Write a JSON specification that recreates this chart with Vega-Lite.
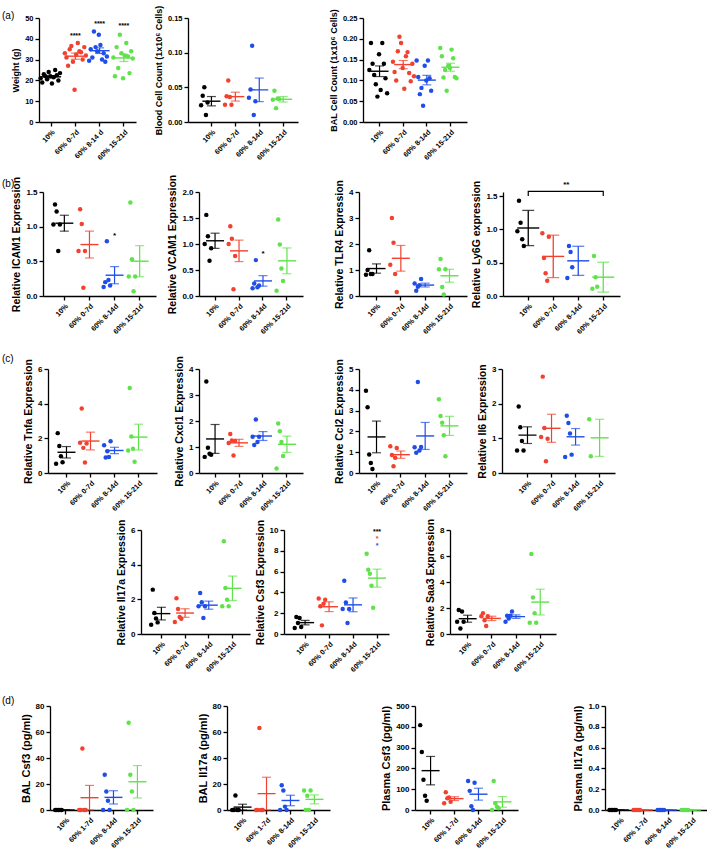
{
"$schema": "https://vega.github.io/schema/vega-lite/v6.json",
"padding": {"left": 2, "top": 5, "right": 0, "bottom": 0},
"background": "white",
"datasets": {
"pts": [
{"p":"a1","x":"10%","v":21},{"p":"a1","x":"10%","v":19},{"p":"a1","x":"10%","v":23},{"p":"a1","x":"10%","v":22},{"p":"a1","x":"10%","v":20.5},{"p":"a1","x":"10%","v":24},{"p":"a1","x":"10%","v":22},{"p":"a1","x":"10%","v":18.5},{"p":"a1","x":"10%","v":21.5},{"p":"a1","x":"10%","v":25},{"p":"a1","x":"10%","v":22.5},{"p":"a1","x":"10%","v":20},{"p":"a1","x":"10%","v":23.5},
{"p":"a1","x":"60% 0-7d","v":33},{"p":"a1","x":"60% 0-7d","v":31},{"p":"a1","x":"60% 0-7d","v":27},{"p":"a1","x":"60% 0-7d","v":35},{"p":"a1","x":"60% 0-7d","v":36.5},{"p":"a1","x":"60% 0-7d","v":29},{"p":"a1","x":"60% 0-7d","v":15.5},{"p":"a1","x":"60% 0-7d","v":32.5},{"p":"a1","x":"60% 0-7d","v":38},{"p":"a1","x":"60% 0-7d","v":34},{"p":"a1","x":"60% 0-7d","v":33.5},{"p":"a1","x":"60% 0-7d","v":30},{"p":"a1","x":"60% 0-7d","v":36},{"p":"a1","x":"60% 0-7d","v":32},
{"p":"a1","x":"60% 8-14 d","v":29.5},{"p":"a1","x":"60% 8-14 d","v":35},{"p":"a1","x":"60% 8-14 d","v":31},{"p":"a1","x":"60% 8-14 d","v":43.5},{"p":"a1","x":"60% 8-14 d","v":36},{"p":"a1","x":"60% 8-14 d","v":34},{"p":"a1","x":"60% 8-14 d","v":42},{"p":"a1","x":"60% 8-14 d","v":37},{"p":"a1","x":"60% 8-14 d","v":30},{"p":"a1","x":"60% 8-14 d","v":33},{"p":"a1","x":"60% 8-14 d","v":29},{"p":"a1","x":"60% 8-14 d","v":31.5},
{"p":"a1","x":"60% 15-21d","v":31},{"p":"a1","x":"60% 15-21d","v":22},{"p":"a1","x":"60% 15-21d","v":36},{"p":"a1","x":"60% 15-21d","v":26},{"p":"a1","x":"60% 15-21d","v":42},{"p":"a1","x":"60% 15-21d","v":33},{"p":"a1","x":"60% 15-21d","v":21},{"p":"a1","x":"60% 15-21d","v":32},{"p":"a1","x":"60% 15-21d","v":38},{"p":"a1","x":"60% 15-21d","v":31.5},{"p":"a1","x":"60% 15-21d","v":23.5},{"p":"a1","x":"60% 15-21d","v":34},{"p":"a1","x":"60% 15-21d","v":30.5},
{"p":"a2","x":"10%","v":0.024},{"p":"a2","x":"10%","v":0.038},{"p":"a2","x":"10%","v":0.05},{"p":"a2","x":"10%","v":0.01},{"p":"a2","x":"10%","v":0.028},
{"p":"a2","x":"60% 0-7d","v":0.025},{"p":"a2","x":"60% 0-7d","v":0.037},{"p":"a2","x":"60% 0-7d","v":0.06},{"p":"a2","x":"60% 0-7d","v":0.036},{"p":"a2","x":"60% 0-7d","v":0.025},
{"p":"a2","x":"60% 8-14d","v":0.035},{"p":"a2","x":"60% 8-14d","v":0.047},{"p":"a2","x":"60% 8-14d","v":0.11},{"p":"a2","x":"60% 8-14d","v":0.01},{"p":"a2","x":"60% 8-14d","v":0.03},
{"p":"a2","x":"60% 15-21d","v":0.032},{"p":"a2","x":"60% 15-21d","v":0.045},{"p":"a2","x":"60% 15-21d","v":0.02},{"p":"a2","x":"60% 15-21d","v":0.034},{"p":"a2","x":"60% 15-21d","v":0.033},
{"p":"a3","x":"10%","v":0.125},{"p":"a3","x":"10%","v":0.19},{"p":"a3","x":"10%","v":0.14},{"p":"a3","x":"10%","v":0.113},{"p":"a3","x":"10%","v":0.091},{"p":"a3","x":"10%","v":0.061},{"p":"a3","x":"10%","v":0.163},{"p":"a3","x":"10%","v":0.077},{"p":"a3","x":"10%","v":0.19},{"p":"a3","x":"10%","v":0.14},{"p":"a3","x":"10%","v":0.105},{"p":"a3","x":"10%","v":0.069},
{"p":"a3","x":"60% 0-7d","v":0.145},{"p":"a3","x":"60% 0-7d","v":0.12},{"p":"a3","x":"60% 0-7d","v":0.1},{"p":"a3","x":"60% 0-7d","v":0.17},{"p":"a3","x":"60% 0-7d","v":0.205},{"p":"a3","x":"60% 0-7d","v":0.19},{"p":"a3","x":"60% 0-7d","v":0.13},{"p":"a3","x":"60% 0-7d","v":0.08},{"p":"a3","x":"60% 0-7d","v":0.158},{"p":"a3","x":"60% 0-7d","v":0.168},{"p":"a3","x":"60% 0-7d","v":0.118},{"p":"a3","x":"60% 0-7d","v":0.098},{"p":"a3","x":"60% 0-7d","v":0.14},{"p":"a3","x":"60% 0-7d","v":0.11},
{"p":"a3","x":"60% 8-14d","v":0.148},{"p":"a3","x":"60% 8-14d","v":0.108},{"p":"a3","x":"60% 8-14d","v":0.067},{"p":"a3","x":"60% 8-14d","v":0.082},{"p":"a3","x":"60% 8-14d","v":0.039},{"p":"a3","x":"60% 8-14d","v":0.135},{"p":"a3","x":"60% 8-14d","v":0.1},{"p":"a3","x":"60% 8-14d","v":0.148},{"p":"a3","x":"60% 8-14d","v":0.105},{"p":"a3","x":"60% 8-14d","v":0.075},
{"p":"a3","x":"60% 15-21d","v":0.178},{"p":"a3","x":"60% 15-21d","v":0.158},{"p":"a3","x":"60% 15-21d","v":0.107},{"p":"a3","x":"60% 15-21d","v":0.125},{"p":"a3","x":"60% 15-21d","v":0.075},{"p":"a3","x":"60% 15-21d","v":0.135},{"p":"a3","x":"60% 15-21d","v":0.13},{"p":"a3","x":"60% 15-21d","v":0.174},{"p":"a3","x":"60% 15-21d","v":0.153},{"p":"a3","x":"60% 15-21d","v":0.108},{"p":"a3","x":"60% 15-21d","v":0.105},
{"p":"b1","x":"10%","v":1.03},{"p":"b1","x":"10%","v":1.32},{"p":"b1","x":"10%","v":1.22},{"p":"b1","x":"10%","v":0.65},{"p":"b1","x":"10%","v":1.03},
{"p":"b1","x":"60% 0-7d","v":0.65},{"p":"b1","x":"60% 0-7d","v":1.25},{"p":"b1","x":"60% 0-7d","v":1.04},{"p":"b1","x":"60% 0-7d","v":0.12},{"p":"b1","x":"60% 0-7d","v":0.65},
{"p":"b1","x":"60% 8-14d","v":0.13},{"p":"b1","x":"60% 8-14d","v":0.2},{"p":"b1","x":"60% 8-14d","v":0.79},{"p":"b1","x":"60% 8-14d","v":0.23},{"p":"b1","x":"60% 8-14d","v":0.15},
{"p":"b1","x":"60% 15-21d","v":0.28},{"p":"b1","x":"60% 15-21d","v":1.35},{"p":"b1","x":"60% 15-21d","v":0.53},{"p":"b1","x":"60% 15-21d","v":0.07},{"p":"b1","x":"60% 15-21d","v":0.28},
{"p":"b2","x":"10%","v":1.0},{"p":"b2","x":"10%","v":1.56},{"p":"b2","x":"10%","v":1.15},{"p":"b2","x":"10%","v":0.68},{"p":"b2","x":"10%","v":0.92},
{"p":"b2","x":"60% 0-7d","v":1.0},{"p":"b2","x":"60% 0-7d","v":1.34},{"p":"b2","x":"60% 0-7d","v":1.1},{"p":"b2","x":"60% 0-7d","v":0.13},{"p":"b2","x":"60% 0-7d","v":0.77},
{"p":"b2","x":"60% 8-14d","v":0.15},{"p":"b2","x":"60% 8-14d","v":0.24},{"p":"b2","x":"60% 8-14d","v":0.69},{"p":"b2","x":"60% 8-14d","v":0.17},{"p":"b2","x":"60% 8-14d","v":0.2},
{"p":"b2","x":"60% 15-21d","v":0.1},{"p":"b2","x":"60% 15-21d","v":1.47},{"p":"b2","x":"60% 15-21d","v":0.99},{"p":"b2","x":"60% 15-21d","v":0.53},{"p":"b2","x":"60% 15-21d","v":0.29},
{"p":"b3","x":"10%","v":0.82},{"p":"b3","x":"10%","v":1.0},{"p":"b3","x":"10%","v":1.76},{"p":"b3","x":"10%","v":0.85},{"p":"b3","x":"10%","v":0.85},
{"p":"b3","x":"60% 0-7d","v":1.2},{"p":"b3","x":"60% 0-7d","v":3.0},{"p":"b3","x":"60% 0-7d","v":2.05},{"p":"b3","x":"60% 0-7d","v":0.85},{"p":"b3","x":"60% 0-7d","v":0.15},
{"p":"b3","x":"60% 8-14d","v":0.48},{"p":"b3","x":"60% 8-14d","v":0.2},{"p":"b3","x":"60% 8-14d","v":0.36},{"p":"b3","x":"60% 8-14d","v":0.41},{"p":"b3","x":"60% 8-14d","v":0.65},
{"p":"b3","x":"60% 15-21d","v":1.03},{"p":"b3","x":"60% 15-21d","v":1.42},{"p":"b3","x":"60% 15-21d","v":0.35},{"p":"b3","x":"60% 15-21d","v":0.06},{"p":"b3","x":"60% 15-21d","v":1.03},
{"p":"b4","x":"10%","v":0.97},{"p":"b4","x":"10%","v":1.43},{"p":"b4","x":"10%","v":1.1},{"p":"b4","x":"10%","v":0.85},{"p":"b4","x":"10%","v":0.75},
{"p":"b4","x":"60% 0-7d","v":0.94},{"p":"b4","x":"60% 0-7d","v":0.57},{"p":"b4","x":"60% 0-7d","v":0.34},{"p":"b4","x":"60% 0-7d","v":0.23},{"p":"b4","x":"60% 0-7d","v":0.89},
{"p":"b4","x":"60% 8-14d","v":0.27},{"p":"b4","x":"60% 8-14d","v":0.75},{"p":"b4","x":"60% 8-14d","v":0.66},{"p":"b4","x":"60% 8-14d","v":0.43},
{"p":"b4","x":"60% 15-21d","v":0.11},{"p":"b4","x":"60% 15-21d","v":0.6},{"p":"b4","x":"60% 15-21d","v":0.28},{"p":"b4","x":"60% 15-21d","v":0.14},
{"p":"c1","x":"10%","v":0.53},{"p":"c1","x":"10%","v":2.3},{"p":"c1","x":"10%","v":1.56},{"p":"c1","x":"10%","v":0.97},{"p":"c1","x":"10%","v":0.62},
{"p":"c1","x":"60% 0-7d","v":1.75},{"p":"c1","x":"60% 0-7d","v":3.72},{"p":"c1","x":"60% 0-7d","v":1.45},{"p":"c1","x":"60% 0-7d","v":0.6},{"p":"c1","x":"60% 0-7d","v":1.7},
{"p":"c1","x":"60% 8-14d","v":1.6},{"p":"c1","x":"60% 8-14d","v":0.9},{"p":"c1","x":"60% 8-14d","v":1.25},{"p":"c1","x":"60% 8-14d","v":0.92},{"p":"c1","x":"60% 8-14d","v":1.83},
{"p":"c1","x":"60% 15-21d","v":1.3},{"p":"c1","x":"60% 15-21d","v":4.9},{"p":"c1","x":"60% 15-21d","v":2.1},{"p":"c1","x":"60% 15-21d","v":1.4},{"p":"c1","x":"60% 15-21d","v":0.65},
{"p":"c2","x":"10%","v":0.62},{"p":"c2","x":"10%","v":3.52},{"p":"c2","x":"10%","v":0.97},{"p":"c2","x":"10%","v":0.74},{"p":"c2","x":"10%","v":0.7},
{"p":"c2","x":"60% 0-7d","v":1.15},{"p":"c2","x":"60% 0-7d","v":1.5},{"p":"c2","x":"60% 0-7d","v":1.25},{"p":"c2","x":"60% 0-7d","v":0.67},{"p":"c2","x":"60% 0-7d","v":1.23},
{"p":"c2","x":"60% 8-14d","v":1.39},{"p":"c2","x":"60% 8-14d","v":1.08},{"p":"c2","x":"60% 8-14d","v":2.06},{"p":"c2","x":"60% 8-14d","v":1.19},{"p":"c2","x":"60% 8-14d","v":1.39},
{"p":"c2","x":"60% 15-21d","v":0.17},{"p":"c2","x":"60% 15-21d","v":1.9},{"p":"c2","x":"60% 15-21d","v":1.61},{"p":"c2","x":"60% 15-21d","v":1.19},{"p":"c2","x":"60% 15-21d","v":0.65},
{"p":"c3","x":"10%","v":3.95},{"p":"c3","x":"10%","v":3.16},{"p":"c3","x":"10%","v":0.89},{"p":"c3","x":"10%","v":0.48},{"p":"c3","x":"10%","v":0.19},
{"p":"c3","x":"60% 0-7d","v":1.29},{"p":"c3","x":"60% 0-7d","v":0.87},{"p":"c3","x":"60% 0-7d","v":0.32},{"p":"c3","x":"60% 0-7d","v":0.73},{"p":"c3","x":"60% 0-7d","v":1.2},
{"p":"c3","x":"60% 8-14d","v":1.24},{"p":"c3","x":"60% 8-14d","v":0.97},{"p":"c3","x":"60% 8-14d","v":4.37},{"p":"c3","x":"60% 8-14d","v":1.08},{"p":"c3","x":"60% 8-14d","v":1.25},
{"p":"c3","x":"60% 15-21d","v":3.55},{"p":"c3","x":"60% 15-21d","v":2.74},{"p":"c3","x":"60% 15-21d","v":2.42},{"p":"c3","x":"60% 15-21d","v":1.81},{"p":"c3","x":"60% 15-21d","v":0.81},
{"p":"c4","x":"10%","v":0.65},{"p":"c4","x":"10%","v":1.92},{"p":"c4","x":"10%","v":1.32},{"p":"c4","x":"10%","v":0.92},{"p":"c4","x":"10%","v":0.65},
{"p":"c4","x":"60% 0-7d","v":1.04},{"p":"c4","x":"60% 0-7d","v":2.78},{"p":"c4","x":"60% 0-7d","v":1.3},{"p":"c4","x":"60% 0-7d","v":0.34},{"p":"c4","x":"60% 0-7d","v":0.99},
{"p":"c4","x":"60% 8-14d","v":0.46},{"p":"c4","x":"60% 8-14d","v":1.65},{"p":"c4","x":"60% 8-14d","v":1.44},{"p":"c4","x":"60% 8-14d","v":1.14},{"p":"c4","x":"60% 8-14d","v":0.53},
{"p":"c4","x":"60% 15-21d","v":1.55},{"p":"c4","x":"60% 15-21d","v":0.48},
{"p":"c5","x":"10%","v":0.54},{"p":"c5","x":"10%","v":2.56},{"p":"c5","x":"10%","v":1.21},{"p":"c5","x":"10%","v":0.9},{"p":"c5","x":"10%","v":0.67},
{"p":"c5","x":"60% 0-7d","v":0.69},{"p":"c5","x":"60% 0-7d","v":2.06},{"p":"c5","x":"60% 0-7d","v":1.44},{"p":"c5","x":"60% 0-7d","v":0.98},{"p":"c5","x":"60% 0-7d","v":0.88},
{"p":"c5","x":"60% 8-14d","v":1.6},{"p":"c5","x":"60% 8-14d","v":2.37},{"p":"c5","x":"60% 8-14d","v":1.83},{"p":"c5","x":"60% 8-14d","v":0.92},{"p":"c5","x":"60% 8-14d","v":1.6},
{"p":"c5","x":"60% 15-21d","v":1.6},{"p":"c5","x":"60% 15-21d","v":5.35},{"p":"c5","x":"60% 15-21d","v":2.65},{"p":"c5","x":"60% 15-21d","v":1.98},{"p":"c5","x":"60% 15-21d","v":1.6},
{"p":"c6","x":"10%","v":0.58},{"p":"c6","x":"10%","v":1.63},{"p":"c6","x":"10%","v":1.05},{"p":"c6","x":"10%","v":1.54},{"p":"c6","x":"10%","v":0.67},
{"p":"c6","x":"60% 0-7d","v":3.42},{"p":"c6","x":"60% 0-7d","v":2.66},{"p":"c6","x":"60% 0-7d","v":0.83},{"p":"c6","x":"60% 0-7d","v":2.9},{"p":"c6","x":"60% 0-7d","v":3.3},
{"p":"c6","x":"60% 8-14d","v":2.4},{"p":"c6","x":"60% 8-14d","v":5.12},{"p":"c6","x":"60% 8-14d","v":3.04},{"p":"c6","x":"60% 8-14d","v":1.06},{"p":"c6","x":"60% 8-14d","v":2.4},
{"p":"c6","x":"60% 15-21d","v":7.71},{"p":"c6","x":"60% 15-21d","v":6.18},{"p":"c6","x":"60% 15-21d","v":5.8},{"p":"c6","x":"60% 15-21d","v":4.64},{"p":"c6","x":"60% 15-21d","v":2.53},
{"p":"c7","x":"10%","v":0.94},{"p":"c7","x":"10%","v":1.85},{"p":"c7","x":"10%","v":0.42},{"p":"c7","x":"10%","v":1.73},{"p":"c7","x":"10%","v":0.94},
{"p":"c7","x":"60% 0-7d","v":1.36},{"p":"c7","x":"60% 0-7d","v":1.6},{"p":"c7","x":"60% 0-7d","v":1.06},{"p":"c7","x":"60% 0-7d","v":0.62},{"p":"c7","x":"60% 0-7d","v":1.36},
{"p":"c7","x":"60% 8-14d","v":0.94},{"p":"c7","x":"60% 8-14d","v":1.41},{"p":"c7","x":"60% 8-14d","v":1.2},{"p":"c7","x":"60% 8-14d","v":1.41},{"p":"c7","x":"60% 8-14d","v":1.73},
{"p":"c7","x":"60% 15-21d","v":0.86},{"p":"c7","x":"60% 15-21d","v":6.15},{"p":"c7","x":"60% 15-21d","v":2.8},{"p":"c7","x":"60% 15-21d","v":1.6},{"p":"c7","x":"60% 15-21d","v":0.86},
{"p":"d1","x":"10%","v":0},{"p":"d1","x":"10%","v":0},{"p":"d1","x":"10%","v":0},{"p":"d1","x":"10%","v":0},{"p":"d1","x":"10%","v":0},
{"p":"d1","x":"60% 1-7d","v":0},{"p":"d1","x":"60% 1-7d","v":0},{"p":"d1","x":"60% 1-7d","v":47.3},{"p":"d1","x":"60% 1-7d","v":0},{"p":"d1","x":"60% 1-7d","v":0},
{"p":"d1","x":"60% 8-14d","v":0},{"p":"d1","x":"60% 8-14d","v":27.2},{"p":"d1","x":"60% 8-14d","v":14.2},{"p":"d1","x":"60% 8-14d","v":7.2},{"p":"d1","x":"60% 8-14d","v":0},
{"p":"d1","x":"60% 15-21d","v":0},{"p":"d1","x":"60% 15-21d","v":67.2},{"p":"d1","x":"60% 15-21d","v":27.2},{"p":"d1","x":"60% 15-21d","v":14.2},{"p":"d1","x":"60% 15-21d","v":0},
{"p":"d2","x":"10%","v":0},{"p":"d2","x":"10%","v":0},{"p":"d2","x":"10%","v":11.1},{"p":"d2","x":"10%","v":0},{"p":"d2","x":"10%","v":0},
{"p":"d2","x":"60% 1-7d","v":0},{"p":"d2","x":"60% 1-7d","v":0},{"p":"d2","x":"60% 1-7d","v":63},{"p":"d2","x":"60% 1-7d","v":0},{"p":"d2","x":"60% 1-7d","v":0},
{"p":"d2","x":"60% 8-14d","v":0},{"p":"d2","x":"60% 8-14d","v":19},{"p":"d2","x":"60% 8-14d","v":15},{"p":"d2","x":"60% 8-14d","v":2.6},{"p":"d2","x":"60% 8-14d","v":0},
{"p":"d2","x":"60% 15-21d","v":15},{"p":"d2","x":"60% 15-21d","v":0},{"p":"d2","x":"60% 15-21d","v":10.9},{"p":"d2","x":"60% 15-21d","v":0},{"p":"d2","x":"60% 15-21d","v":15},
{"p":"d3","x":"10%","v":408},{"p":"d3","x":"10%","v":279},{"p":"d3","x":"10%","v":145},{"p":"d3","x":"10%","v":69},{"p":"d3","x":"10%","v":45},
{"p":"d3","x":"60% 1-7d","v":32},{"p":"d3","x":"60% 1-7d","v":85},{"p":"d3","x":"60% 1-7d","v":56},{"p":"d3","x":"60% 1-7d","v":60},{"p":"d3","x":"60% 1-7d","v":40},
{"p":"d3","x":"60% 8-14d","v":139},{"p":"d3","x":"60% 8-14d","v":92},{"p":"d3","x":"60% 8-14d","v":18},{"p":"d3","x":"60% 8-14d","v":0},{"p":"d3","x":"60% 8-14d","v":131},
{"p":"d3","x":"60% 15-21d","v":0},{"p":"d3","x":"60% 15-21d","v":139},{"p":"d3","x":"60% 15-21d","v":32},{"p":"d3","x":"60% 15-21d","v":16},{"p":"d3","x":"60% 15-21d","v":8},
{"p":"d4","x":"10%","v":0},{"p":"d4","x":"10%","v":0},{"p":"d4","x":"10%","v":0},{"p":"d4","x":"10%","v":0},{"p":"d4","x":"10%","v":0},
{"p":"d4","x":"60% 1-7d","v":0},{"p":"d4","x":"60% 1-7d","v":0},{"p":"d4","x":"60% 1-7d","v":0},{"p":"d4","x":"60% 1-7d","v":0},{"p":"d4","x":"60% 1-7d","v":0},
{"p":"d4","x":"60% 8-14d","v":0},{"p":"d4","x":"60% 8-14d","v":0},{"p":"d4","x":"60% 8-14d","v":0},{"p":"d4","x":"60% 8-14d","v":0},{"p":"d4","x":"60% 8-14d","v":0},
{"p":"d4","x":"60% 15-21d","v":0},{"p":"d4","x":"60% 15-21d","v":0},{"p":"d4","x":"60% 15-21d","v":0},{"p":"d4","x":"60% 15-21d","v":0},{"p":"d4","x":"60% 15-21d","v":0}
],
"ann": [
{"p":"a1","x":"60% 0-7d","v":41.5,"t":"****","c":"10%"},
{"p":"a1","x":"60% 8-14 d","v":47,"t":"****","c":"10%"},
{"p":"a1","x":"60% 15-21d","v":46,"t":"****","c":"10%"},
{"p":"b1","x":"60% 8-14d","v":0.86,"t":"*","c":"10%"},
{"p":"b2","x":"60% 8-14d","v":0.8,"t":"*","c":"10%"},
{"p":"b4","x":"60% 0-7d","v":1.66,"t":"**","c":"10%"},
{"p":"c6","x":"60% 15-21d","v":9.8,"t":"***","c":"10%"},
{"p":"c6","x":"60% 15-21d","v":9.1,"t":"*","c":"60% 0-7d"},
{"p":"c6","x":"60% 15-21d","v":8.5,"t":"*","c":"60% 8-14d"}
],
"brk": [
{"p":"b4","x":"10%","v":1.5,"o":1},
{"p":"b4","x":"10%","v":1.57,"o":2},
{"p":"b4","x":"60% 15-21d","v":1.57,"o":3},
{"p":"b4","x":"60% 15-21d","v":1.5,"o":4}
]
},
"data": {"name": "pts"},
"spacing": 0,
"vconcat": [
{"hconcat": [
 {"width":37,"height":10,"data":{"values":[]},"mark":{"type":"point","opacity":0},"view":{"fill":"white"}},
 {"width":97,"height":104,
  "transform":[{"filter":"datum.p=='a1'"},{"window":[{"op":"row_number","as":"r"}],"groupby":["x"]}],
  "encoding":{
   "x":{"field":"x","type":"nominal","sort":["10%","60% 0-7d","60% 8-14 d","60% 15-21d"],"scale":{"paddingInner":0,"paddingOuter":0},"axis":{"title":null}},
   "y":{"field":"v","type":"quantitative","title":"Weight (g)","scale":{"domain":[0,50],"nice":false},"axis":{"values":[0,10,20,30,40,50],"titleFontSize":9,"labelFontSize":7.5}},
   "color":{"field":"x","type":"nominal","legend":null,"scale":{"domain":["10%","60% 0-7d","60% 8-14d","60% 15-21d","60% 8-14 d","60% 1-7d"],"range":["#000000","#f2412e","#1f4de8","#5fe24a","#1f4de8","#f2412e"]}}},
  "layer":[
   {"mark":{"type":"errorbar","extent":"stderr","ticks":true,"size":9,"thickness":1.2}},
   {"transform":[{"aggregate":[{"op":"mean","field":"v","as":"v"}],"groupby":["x"]}],"mark":{"type":"tick","size":20,"thickness":1.4,"opacity":1}},
   {"mark":{"type":"point","filled":true,"size":20,"opacity":1},"encoding":{"xOffset":{"field":"r","type":"ordinal","scale":{"paddingOuter":2.2}}}},
   {"data":{"name":"ann"},"transform":[{"filter":"datum.p=='a1'"}],"mark":{"type":"text","fontSize":7,"fontWeight":"bold"},"encoding":{"text":{"field":"t"},"color":{"field":"c","type":"nominal","legend":null}}}
  ]},
 {"width":52,"height":10,"data":{"values":[]},"mark":{"type":"point","opacity":0},"view":{"fill":"white"}},
 {"width":110,"height":104,
  "transform":[{"filter":"datum.p=='a2'"},{"window":[{"op":"row_number","as":"r"}],"groupby":["x"]}],
  "encoding":{
   "x":{"field":"x","type":"nominal","sort":["10%","60% 0-7d","60% 8-14d","60% 15-21d"],"scale":{"paddingInner":0,"paddingOuter":0.3,"align":0.8},"axis":{"title":null}},
   "y":{"field":"v","type":"quantitative","title":"Blood Cell Count (1x10⁶ Cells)","scale":{"domain":[0,0.15],"nice":false},"axis":{"values":[0,0.05,0.1,0.15],"format":".2f","titleFontSize":9,"labelFontSize":7.5}},
   "color":{"field":"x","type":"nominal","legend":null,"scale":{"domain":["10%","60% 0-7d","60% 8-14d","60% 15-21d","60% 8-14 d","60% 1-7d"],"range":["#000000","#f2412e","#1f4de8","#5fe24a","#1f4de8","#f2412e"]}}},
  "layer":[
   {"mark":{"type":"errorbar","extent":"stderr","ticks":true,"size":9,"thickness":1.2}},
   {"transform":[{"aggregate":[{"op":"mean","field":"v","as":"v"}],"groupby":["x"]}],"mark":{"type":"tick","size":18,"thickness":1.4,"opacity":1}},
   {"mark":{"type":"point","filled":true,"size":20,"opacity":1},"encoding":{"xOffset":{"field":"r","type":"ordinal","scale":{"paddingOuter":2.2}}}}
  ]},
 {"width":65,"height":10,"data":{"values":[]},"mark":{"type":"point","opacity":0},"view":{"fill":"white"}},
 {"width":104,"height":104,
  "transform":[{"filter":"datum.p=='a3'"},{"window":[{"op":"row_number","as":"r"}],"groupby":["x"]}],
  "encoding":{
   "x":{"field":"x","type":"nominal","sort":["10%","60% 0-7d","60% 8-14d","60% 15-21d"],"scale":{"paddingInner":0,"paddingOuter":0.2},"axis":{"title":null}},
   "y":{"field":"v","type":"quantitative","title":"BAL Cell Count (1x10⁶ Cells)","scale":{"domain":[0,0.25],"nice":false},"axis":{"values":[0,0.05,0.1,0.15,0.2,0.25],"format":".2f","titleFontSize":9,"labelFontSize":7.5}},
   "color":{"field":"x","type":"nominal","legend":null,"scale":{"domain":["10%","60% 0-7d","60% 8-14d","60% 15-21d","60% 8-14 d","60% 1-7d"],"range":["#000000","#f2412e","#1f4de8","#5fe24a","#1f4de8","#f2412e"]}}},
  "layer":[
   {"mark":{"type":"errorbar","extent":"stderr","ticks":true,"size":9,"thickness":1.2}},
   {"transform":[{"aggregate":[{"op":"mean","field":"v","as":"v"}],"groupby":["x"]}],"mark":{"type":"tick","size":18,"thickness":1.4,"opacity":1}},
   {"mark":{"type":"point","filled":true,"size":20,"opacity":1},"encoding":{"xOffset":{"field":"r","type":"ordinal","scale":{"paddingOuter":2.2}}}}
  ]}
 ],
 "spacing":0,"bounds":"flush",
 "title":{"text":"(a)","dy":20}
},
{"width":1,"height":13,"data":{"values":[]},"mark":{"type":"point","opacity":0},"view":{"fill":"white"}},
{"hconcat": [
 {"width":41,"height":10,"data":{"values":[]},"mark":{"type":"point","opacity":0},"view":{"fill":"white"}},
 {"width":113,"height":104,
  "transform":[{"filter":"datum.p=='b1'"},{"window":[{"op":"row_number","as":"r"}],"groupby":["x"]}],
  "encoding":{
   "x":{"field":"x","type":"nominal","sort":["10%","60% 0-7d","60% 8-14d","60% 15-21d"],"scale":{"paddingInner":0,"paddingOuter":0.25,"align":0.7},"axis":{"title":null}},
   "y":{"field":"v","type":"quantitative","title":"Relative ICAM1 Expression","scale":{"domain":[0,1.5],"nice":false},"axis":{"values":[0,0.5,1,1.5],"format":".1f"}},
   "color":{"field":"x","type":"nominal","legend":null,"scale":{"domain":["10%","60% 0-7d","60% 8-14d","60% 15-21d","60% 8-14 d","60% 1-7d"],"range":["#000000","#f2412e","#1f4de8","#5fe24a","#1f4de8","#f2412e"]}}},
  "layer":[
   {"mark":{"type":"errorbar","extent":"stderr","ticks":true,"size":9,"thickness":1.2}},
   {"transform":[{"aggregate":[{"op":"mean","field":"v","as":"v"}],"groupby":["x"]}],"mark":{"type":"tick","size":18,"thickness":1.4,"opacity":1}},
   {"mark":{"type":"point","filled":true,"size":20,"opacity":1},"encoding":{"xOffset":{"field":"r","type":"ordinal","scale":{"paddingOuter":2.2}}}},
   {"data":{"name":"ann"},"transform":[{"filter":"datum.p=='b1'"}],"mark":{"type":"text","fontSize":8,"fontWeight":"bold"},"encoding":{"text":{"field":"t"},"color":{"field":"c","type":"nominal","legend":null}}}
  ]},
 {"width":43,"height":10,"data":{"values":[]},"mark":{"type":"point","opacity":0},"view":{"fill":"white"}},
 {"width":104,"height":104,
  "transform":[{"filter":"datum.p=='b2'"},{"window":[{"op":"row_number","as":"r"}],"groupby":["x"]}],
  "encoding":{
   "x":{"field":"x","type":"nominal","sort":["10%","60% 0-7d","60% 8-14d","60% 15-21d"],"scale":{"paddingInner":0,"paddingOuter":0.17},"axis":{"title":null}},
   "y":{"field":"v","type":"quantitative","title":"Relative VCAM1 Expression","scale":{"domain":[0,2],"nice":false},"axis":{"values":[0,0.5,1,1.5,2],"format":".1f"}},
   "color":{"field":"x","type":"nominal","legend":null,"scale":{"domain":["10%","60% 0-7d","60% 8-14d","60% 15-21d","60% 8-14 d","60% 1-7d"],"range":["#000000","#f2412e","#1f4de8","#5fe24a","#1f4de8","#f2412e"]}}},
  "layer":[
   {"mark":{"type":"errorbar","extent":"stderr","ticks":true,"size":9,"thickness":1.2}},
   {"transform":[{"aggregate":[{"op":"mean","field":"v","as":"v"}],"groupby":["x"]}],"mark":{"type":"tick","size":18,"thickness":1.4,"opacity":1}},
   {"mark":{"type":"point","filled":true,"size":20,"opacity":1},"encoding":{"xOffset":{"field":"r","type":"ordinal","scale":{"paddingOuter":2.2}}}},
   {"data":{"name":"ann"},"transform":[{"filter":"datum.p=='b2'"}],"mark":{"type":"text","fontSize":8,"fontWeight":"bold"},"encoding":{"text":{"field":"t"},"color":{"field":"c","type":"nominal","legend":null}}}
  ]},
 {"width":56,"height":10,"data":{"values":[]},"mark":{"type":"point","opacity":0},"view":{"fill":"white"}},
 {"width":108,"height":104,
  "transform":[{"filter":"datum.p=='b3'"},{"window":[{"op":"row_number","as":"r"}],"groupby":["x"]}],
  "encoding":{
   "x":{"field":"x","type":"nominal","sort":["10%","60% 0-7d","60% 8-14d","60% 15-21d"],"scale":{"paddingInner":0,"paddingOuter":0.22},"axis":{"title":null}},
   "y":{"field":"v","type":"quantitative","title":"Relative TLR4 Expression","scale":{"domain":[0,4],"nice":false},"axis":{"values":[0,1,2,3,4]}},
   "color":{"field":"x","type":"nominal","legend":null,"scale":{"domain":["10%","60% 0-7d","60% 8-14d","60% 15-21d","60% 8-14 d","60% 1-7d"],"range":["#000000","#f2412e","#1f4de8","#5fe24a","#1f4de8","#f2412e"]}}},
  "layer":[
   {"mark":{"type":"errorbar","extent":"stderr","ticks":true,"size":9,"thickness":1.2}},
   {"transform":[{"aggregate":[{"op":"mean","field":"v","as":"v"}],"groupby":["x"]}],"mark":{"type":"tick","size":18,"thickness":1.4,"opacity":1}},
   {"mark":{"type":"point","filled":true,"size":20,"opacity":1},"encoding":{"xOffset":{"field":"r","type":"ordinal","scale":{"paddingOuter":2.2}}}}
  ]},
 {"width":36,"height":10,"data":{"values":[]},"mark":{"type":"point","opacity":0},"view":{"fill":"white"}},
 {"width":117,"height":104,
  "transform":[{"filter":"datum.p=='b4'"},{"window":[{"op":"row_number","as":"r"}],"groupby":["x"]}],
  "encoding":{
   "x":{"field":"x","type":"nominal","sort":["10%","60% 0-7d","60% 8-14d","60% 15-21d"],"scale":{"paddingInner":0,"paddingOuter":0.34,"align":0.75},"axis":{"title":null}},
   "y":{"field":"v","type":"quantitative","title":"Relative Ly6G expression","scale":{"domain":[0,1.56],"nice":false},"axis":{"values":[0,0.5,1,1.5],"format":".1f"}},
   "color":{"field":"x","type":"nominal","legend":null,"scale":{"domain":["10%","60% 0-7d","60% 8-14d","60% 15-21d","60% 8-14 d","60% 1-7d"],"range":["#000000","#f2412e","#1f4de8","#5fe24a","#1f4de8","#f2412e"]}}},
  "layer":[
   {"mark":{"type":"errorbar","extent":"stdev","ticks":true,"size":12,"thickness":1.3}},
   {"transform":[{"aggregate":[{"op":"mean","field":"v","as":"v"}],"groupby":["x"]}],"mark":{"type":"tick","size":22,"thickness":1.4,"opacity":1}},
   {"mark":{"type":"point","filled":true,"size":20,"opacity":1},"encoding":{"xOffset":{"field":"r","type":"ordinal","scale":{"paddingOuter":2.2}}}},
   {"data":{"name":"brk"},"mark":{"type":"line","color":"#000000","strokeWidth":1.2},"encoding":{"order":{"field":"o","type":"quantitative"},"color":{"value":"#000000"}}},
   {"data":{"name":"ann"},"transform":[{"filter":"datum.p=='b4'"}],"mark":{"type":"text","fontSize":8,"fontWeight":"bold","dx":13},"encoding":{"text":{"field":"t"},"color":{"field":"c","type":"nominal","legend":null}}}
  ]}
 ],
 "spacing":0,"bounds":"flush",
 "title":{"text":"(b)","dy":19}
},
{"width":1,"height":18,"data":{"values":[]},"mark":{"type":"point","opacity":0},"view":{"fill":"white"}},
{"hconcat": [
 {"width":46,"height":10,"data":{"values":[]},"mark":{"type":"point","opacity":0},"view":{"fill":"white"}},
 {"width":109,"height":104,
  "transform":[{"filter":"datum.p=='c1'"},{"window":[{"op":"row_number","as":"r"}],"groupby":["x"]}],
  "encoding":{
   "x":{"field":"x","type":"nominal","sort":["10%","60% 0-7d","60% 8-14d","60% 15-21d"],"scale":{"paddingInner":0,"paddingOuter":0.27},"axis":{"title":null}},
   "y":{"field":"v","type":"quantitative","title":"Relative Tnfa Expression","scale":{"domain":[0,6],"nice":false},"axis":{"values":[0,2,4,6]}},
   "color":{"field":"x","type":"nominal","legend":null,"scale":{"domain":["10%","60% 0-7d","60% 8-14d","60% 15-21d","60% 8-14 d","60% 1-7d"],"range":["#000000","#f2412e","#1f4de8","#5fe24a","#1f4de8","#f2412e"]}}},
  "layer":[
   {"mark":{"type":"errorbar","extent":"stderr","ticks":true,"size":9,"thickness":1.2}},
   {"transform":[{"aggregate":[{"op":"mean","field":"v","as":"v"}],"groupby":["x"]}],"mark":{"type":"tick","size":18,"thickness":1.4,"opacity":1}},
   {"mark":{"type":"point","filled":true,"size":20,"opacity":1},"encoding":{"xOffset":{"field":"r","type":"ordinal","scale":{"paddingOuter":2.2}}}}
  ]},
 {"width":42,"height":10,"data":{"values":[]},"mark":{"type":"point","opacity":0},"view":{"fill":"white"}},
 {"width":104,"height":104,
  "transform":[{"filter":"datum.p=='c2'"},{"window":[{"op":"row_number","as":"r"}],"groupby":["x"]}],
  "encoding":{
   "x":{"field":"x","type":"nominal","sort":["10%","60% 0-7d","60% 8-14d","60% 15-21d"],"scale":{"paddingInner":0,"paddingOuter":0.17},"axis":{"title":null}},
   "y":{"field":"v","type":"quantitative","title":"Relative Cxcl1 Expression","scale":{"domain":[0,4],"nice":false},"axis":{"values":[0,1,2,3,4]}},
   "color":{"field":"x","type":"nominal","legend":null,"scale":{"domain":["10%","60% 0-7d","60% 8-14d","60% 15-21d","60% 8-14 d","60% 1-7d"],"range":["#000000","#f2412e","#1f4de8","#5fe24a","#1f4de8","#f2412e"]}}},
  "layer":[
   {"mark":{"type":"errorbar","extent":"stderr","ticks":true,"size":9,"thickness":1.2}},
   {"transform":[{"aggregate":[{"op":"mean","field":"v","as":"v"}],"groupby":["x"]}],"mark":{"type":"tick","size":18,"thickness":1.4,"opacity":1}},
   {"mark":{"type":"point","filled":true,"size":20,"opacity":1},"encoding":{"xOffset":{"field":"r","type":"ordinal","scale":{"paddingOuter":2.2}}}}
  ]},
 {"width":56,"height":10,"data":{"values":[]},"mark":{"type":"point","opacity":0},"view":{"fill":"white"}},
 {"width":108,"height":104,
  "transform":[{"filter":"datum.p=='c3'"},{"window":[{"op":"row_number","as":"r"}],"groupby":["x"]}],
  "encoding":{
   "x":{"field":"x","type":"nominal","sort":["10%","60% 0-7d","60% 8-14d","60% 15-21d"],"scale":{"paddingInner":0,"paddingOuter":0.22},"axis":{"title":null}},
   "y":{"field":"v","type":"quantitative","title":"Relative Ccl2 Expression","scale":{"domain":[0,5],"nice":false},"axis":{"values":[0,1,2,3,4,5]}},
   "color":{"field":"x","type":"nominal","legend":null,"scale":{"domain":["10%","60% 0-7d","60% 8-14d","60% 15-21d","60% 8-14 d","60% 1-7d"],"range":["#000000","#f2412e","#1f4de8","#5fe24a","#1f4de8","#f2412e"]}}},
  "layer":[
   {"mark":{"type":"errorbar","extent":"stderr","ticks":true,"size":9,"thickness":1.2}},
   {"transform":[{"aggregate":[{"op":"mean","field":"v","as":"v"}],"groupby":["x"]}],"mark":{"type":"tick","size":18,"thickness":1.4,"opacity":1}},
   {"mark":{"type":"point","filled":true,"size":20,"opacity":1},"encoding":{"xOffset":{"field":"r","type":"ordinal","scale":{"paddingOuter":2.2}}}}
  ]},
 {"width":35,"height":10,"data":{"values":[]},"mark":{"type":"point","opacity":0},"view":{"fill":"white"}},
 {"width":113,"height":104,
  "transform":[{"filter":"datum.p=='c4'"},{"window":[{"op":"row_number","as":"r"}],"groupby":["x"]}],
  "encoding":{
   "x":{"field":"x","type":"nominal","sort":["10%","60% 0-7d","60% 8-14d","60% 15-21d"],"scale":{"paddingInner":0,"paddingOuter":0.35,"align":0.8},"axis":{"title":null}},
   "y":{"field":"v","type":"quantitative","title":"Relative Il6 Expression","scale":{"domain":[0,3],"nice":false},"axis":{"values":[0,1,2,3]}},
   "color":{"field":"x","type":"nominal","legend":null,"scale":{"domain":["10%","60% 0-7d","60% 8-14d","60% 15-21d","60% 8-14 d","60% 1-7d"],"range":["#000000","#f2412e","#1f4de8","#5fe24a","#1f4de8","#f2412e"]}}},
  "layer":[
   {"mark":{"type":"errorbar","extent":"stderr","ticks":true,"size":9,"thickness":1.2}},
   {"transform":[{"aggregate":[{"op":"mean","field":"v","as":"v"}],"groupby":["x"]}],"mark":{"type":"tick","size":18,"thickness":1.4,"opacity":1}},
   {"mark":{"type":"point","filled":true,"size":20,"opacity":1},"encoding":{"xOffset":{"field":"r","type":"ordinal","scale":{"paddingOuter":2.2}}}}
  ]}
 ],
 "spacing":0,"bounds":"flush",
 "title":{"text":"(c)","dy":12}
},
{"width":1,"height":6,"data":{"values":[]},"mark":{"type":"point","opacity":0},"view":{"fill":"white"}},
{"hconcat": [
 {"width":139,"height":10,"data":{"values":[]},"mark":{"type":"point","opacity":0},"view":{"fill":"white"}},
 {"width":109,"height":104,
  "transform":[{"filter":"datum.p=='c5'"},{"window":[{"op":"row_number","as":"r"}],"groupby":["x"]}],
  "encoding":{
   "x":{"field":"x","type":"nominal","sort":["10%","60% 0-7d","60% 8-14d","60% 15-21d"],"scale":{"paddingInner":0,"paddingOuter":0.3,"align":0.6},"axis":{"title":null}},
   "y":{"field":"v","type":"quantitative","title":"Relative Il17a Expression","scale":{"domain":[0,6],"nice":false},"axis":{"values":[0,2,4,6]}},
   "color":{"field":"x","type":"nominal","legend":null,"scale":{"domain":["10%","60% 0-7d","60% 8-14d","60% 15-21d","60% 8-14 d","60% 1-7d"],"range":["#000000","#f2412e","#1f4de8","#5fe24a","#1f4de8","#f2412e"]}}},
  "layer":[
   {"mark":{"type":"errorbar","extent":"stderr","ticks":true,"size":9,"thickness":1.2}},
   {"transform":[{"aggregate":[{"op":"mean","field":"v","as":"v"}],"groupby":["x"]}],"mark":{"type":"tick","size":18,"thickness":1.4,"opacity":1}},
   {"mark":{"type":"point","filled":true,"size":20,"opacity":1},"encoding":{"xOffset":{"field":"r","type":"ordinal","scale":{"paddingOuter":2.2}}}}
  ]},
 {"width":34,"height":10,"data":{"values":[]},"mark":{"type":"point","opacity":0},"view":{"fill":"white"}},
 {"width":105,"height":104,
  "transform":[{"filter":"datum.p=='c6'"},{"window":[{"op":"row_number","as":"r"}],"groupby":["x"]}],
  "encoding":{
   "x":{"field":"x","type":"nominal","sort":["10%","60% 0-7d","60% 8-14d","60% 15-21d"],"scale":{"paddingInner":0,"paddingOuter":0.19,"align":1},"axis":{"title":null}},
   "y":{"field":"v","type":"quantitative","title":"Relative Csf3 Expression","scale":{"domain":[0,10],"nice":false},"axis":{"values":[0,2,4,6,8,10]}},
   "color":{"field":"x","type":"nominal","legend":null,"scale":{"domain":["10%","60% 0-7d","60% 8-14d","60% 15-21d","60% 8-14 d","60% 1-7d"],"range":["#000000","#f2412e","#1f4de8","#5fe24a","#1f4de8","#f2412e"]}}},
  "layer":[
   {"mark":{"type":"errorbar","extent":"stderr","ticks":true,"size":9,"thickness":1.2}},
   {"transform":[{"aggregate":[{"op":"mean","field":"v","as":"v"}],"groupby":["x"]}],"mark":{"type":"tick","size":18,"thickness":1.4,"opacity":1}},
   {"mark":{"type":"point","filled":true,"size":20,"opacity":1},"encoding":{"xOffset":{"field":"r","type":"ordinal","scale":{"paddingOuter":2.2}}}},
   {"data":{"name":"ann"},"transform":[{"filter":"datum.p=='c6'"}],"mark":{"type":"text","fontSize":7,"fontWeight":"bold"},"encoding":{"text":{"field":"t"},"color":{"field":"c","type":"nominal","legend":null}}}
  ]},
 {"width":61,"height":10,"data":{"values":[]},"mark":{"type":"point","opacity":0},"view":{"fill":"white"}},
 {"width":106,"height":104,
  "transform":[{"filter":"datum.p=='c7'"},{"window":[{"op":"row_number","as":"r"}],"groupby":["x"]}],
  "encoding":{
   "x":{"field":"x","type":"nominal","sort":["10%","60% 0-7d","60% 8-14d","60% 15-21d"],"scale":{"paddingInner":0,"paddingOuter":0.19,"align":0.6},"axis":{"title":null}},
   "y":{"field":"v","type":"quantitative","title":"Relative Saa3 Expression","scale":{"domain":[0,8],"nice":false},"axis":{"values":[0,2,4,6,8]}},
   "color":{"field":"x","type":"nominal","legend":null,"scale":{"domain":["10%","60% 0-7d","60% 8-14d","60% 15-21d","60% 8-14 d","60% 1-7d"],"range":["#000000","#f2412e","#1f4de8","#5fe24a","#1f4de8","#f2412e"]}}},
  "layer":[
   {"mark":{"type":"errorbar","extent":"stderr","ticks":true,"size":9,"thickness":1.2}},
   {"transform":[{"aggregate":[{"op":"mean","field":"v","as":"v"}],"groupby":["x"]}],"mark":{"type":"tick","size":18,"thickness":1.4,"opacity":1}},
   {"mark":{"type":"point","filled":true,"size":20,"opacity":1},"encoding":{"xOffset":{"field":"r","type":"ordinal","scale":{"paddingOuter":2.2}}}}
  ]}
 ],
 "spacing":0,"bounds":"flush"
},
{"width":1,"height":23,"data":{"values":[]},"mark":{"type":"point","opacity":0},"view":{"fill":"white"}},
{"hconcat": [
 {"width":48,"height":10,"data":{"values":[]},"mark":{"type":"point","opacity":0},"view":{"fill":"white"}},
 {"width":103,"height":104,
  "transform":[{"filter":"datum.p=='d1'"},{"window":[{"op":"row_number","as":"r"}],"groupby":["x"]}],
  "encoding":{
   "x":{"field":"x","type":"nominal","sort":["10%","60% 1-7d","60% 8-14d","60% 15-21d"],"scale":{"paddingInner":0,"paddingOuter":0.15},"axis":{"title":null}},
   "y":{"field":"v","type":"quantitative","title":"BAL Csf3 (pg/ml)","scale":{"domain":[0,80],"nice":false},"axis":{"values":[0,20,40,60,80],"titleFontSize":11}},
   "color":{"field":"x","type":"nominal","legend":null,"scale":{"domain":["10%","60% 0-7d","60% 8-14d","60% 15-21d","60% 8-14 d","60% 1-7d"],"range":["#000000","#f2412e","#1f4de8","#5fe24a","#1f4de8","#f2412e"]}}},
  "layer":[
   {"mark":{"type":"errorbar","extent":"stderr","ticks":true,"size":9,"thickness":1.2}},
   {"transform":[{"aggregate":[{"op":"mean","field":"v","as":"v"}],"groupby":["x"]}],"mark":{"type":"tick","size":18,"thickness":1.4,"opacity":1}},
   {"mark":{"type":"point","filled":true,"size":20,"opacity":1},"encoding":{"xOffset":{"field":"r","type":"ordinal","scale":{"paddingOuter":2.2}}}}
  ]},
 {"width":74,"height":10,"data":{"values":[]},"mark":{"type":"point","opacity":0},"view":{"fill":"white"}},
 {"width":103,"height":104,
  "transform":[{"filter":"datum.p=='d2'"},{"window":[{"op":"row_number","as":"r"}],"groupby":["x"]}],
  "encoding":{
   "x":{"field":"x","type":"nominal","sort":["10%","60% 1-7d","60% 8-14d","60% 15-21d"],"scale":{"paddingInner":0,"paddingOuter":0.15},"axis":{"title":null}},
   "y":{"field":"v","type":"quantitative","title":"BAL Il17a (pg/ml)","scale":{"domain":[0,80],"nice":false},"axis":{"values":[0,20,40,60,80],"titleFontSize":11}},
   "color":{"field":"x","type":"nominal","legend":null,"scale":{"domain":["10%","60% 0-7d","60% 8-14d","60% 15-21d","60% 8-14 d","60% 1-7d"],"range":["#000000","#f2412e","#1f4de8","#5fe24a","#1f4de8","#f2412e"]}}},
  "layer":[
   {"mark":{"type":"errorbar","extent":"stderr","ticks":true,"size":9,"thickness":1.2}},
   {"transform":[{"aggregate":[{"op":"mean","field":"v","as":"v"}],"groupby":["x"]}],"mark":{"type":"tick","size":18,"thickness":1.4,"opacity":1}},
   {"mark":{"type":"point","filled":true,"size":20,"opacity":1},"encoding":{"xOffset":{"field":"r","type":"ordinal","scale":{"paddingOuter":2.2}}}}
  ]},
 {"width":85,"height":10,"data":{"values":[]},"mark":{"type":"point","opacity":0},"view":{"fill":"white"}},
 {"width":103,"height":104,
  "transform":[{"filter":"datum.p=='d3'"},{"window":[{"op":"row_number","as":"r"}],"groupby":["x"]}],
  "encoding":{
   "x":{"field":"x","type":"nominal","sort":["10%","60% 1-7d","60% 8-14d","60% 15-21d"],"scale":{"paddingInner":0,"paddingOuter":0.15},"axis":{"title":null}},
   "y":{"field":"v","type":"quantitative","title":"Plasma Csf3 (pg/ml)","scale":{"domain":[0,500],"nice":false},"axis":{"values":[0,100,200,300,400,500],"titleFontSize":11}},
   "color":{"field":"x","type":"nominal","legend":null,"scale":{"domain":["10%","60% 0-7d","60% 8-14d","60% 15-21d","60% 8-14 d","60% 1-7d"],"range":["#000000","#f2412e","#1f4de8","#5fe24a","#1f4de8","#f2412e"]}}},
  "layer":[
   {"mark":{"type":"errorbar","extent":"stderr","ticks":true,"size":9,"thickness":1.2}},
   {"transform":[{"aggregate":[{"op":"mean","field":"v","as":"v"}],"groupby":["x"]}],"mark":{"type":"tick","size":18,"thickness":1.4,"opacity":1}},
   {"mark":{"type":"point","filled":true,"size":20,"opacity":1},"encoding":{"xOffset":{"field":"r","type":"ordinal","scale":{"paddingOuter":2.2}}}}
  ]},
 {"width":87,"height":10,"data":{"values":[]},"mark":{"type":"point","opacity":0},"view":{"fill":"white"}},
 {"width":102,"height":104,
  "transform":[{"filter":"datum.p=='d4'"},{"window":[{"op":"row_number","as":"r"}],"groupby":["x"]}],
  "encoding":{
   "x":{"field":"x","type":"nominal","sort":["10%","60% 1-7d","60% 8-14d","60% 15-21d"],"scale":{"paddingInner":0,"paddingOuter":0.12},"axis":{"title":null}},
   "y":{"field":"v","type":"quantitative","title":"Plasma Il17a (pg/ml)","scale":{"domain":[0,1],"nice":false},"axis":{"values":[0,0.2,0.4,0.6,0.8,1],"format":".1f","titleFontSize":11}},
   "color":{"field":"x","type":"nominal","legend":null,"scale":{"domain":["10%","60% 0-7d","60% 8-14d","60% 15-21d","60% 8-14 d","60% 1-7d"],"range":["#000000","#f2412e","#1f4de8","#5fe24a","#1f4de8","#f2412e"]}}},
  "layer":[
   {"mark":{"type":"errorbar","extent":"stderr","ticks":true,"size":9,"thickness":1.2}},
   {"transform":[{"aggregate":[{"op":"mean","field":"v","as":"v"}],"groupby":["x"]}],"mark":{"type":"tick","size":18,"thickness":1.4,"opacity":1}},
   {"mark":{"type":"point","filled":true,"size":20,"opacity":1},"encoding":{"xOffset":{"field":"r","type":"ordinal","scale":{"paddingOuter":2.2}}}}
  ]}
 ],
 "spacing":0,"bounds":"flush",
 "title":{"text":"(d)","dy":8}
}
],
"config": {
 "font": "Liberation Sans",
 "view": {"stroke": null},
 "axis": {"grid": false, "domainColor": "#000000", "domainWidth": 1.3, "tickColor": "#000000", "tickWidth": 1.3, "tickSize": 4, "labelFont": "Liberation Sans", "labelFontWeight": "bold", "labelFontSize": 8, "labelColor": "#000000", "labelPadding": 2, "titleFont": "Liberation Sans", "titleFontWeight": "bold", "titleFontSize": 10.5, "titleColor": "#000000", "titlePadding": 4},
 "axisX": {"labelAngle": -45, "labelFontSize": 7.2},
 "title": {"font": "Liberation Sans", "fontSize": 10, "fontWeight": "normal", "anchor": "start", "frame": "group", "color": "#000000"}
}
}
